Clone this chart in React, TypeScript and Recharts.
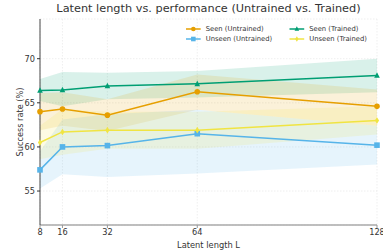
import React from 'react';
import { ComposedChart, Line, Area, XAxis, YAxis, CartesianGrid } from 'recharts';

const latentLengths = [8, 16, 32, 64, 128];

const seenUntrained = [64.0, 64.3, 63.6, 66.25, 64.6];
const seenUntrainedLo = [61.9, 62.4, 61.8, 64.2, 62.4];
const seenUntrainedHi = [66.1, 66.2, 65.4, 68.2, 66.5];

const unseenUntrained = [57.4, 60.0, 60.15, 61.5, 60.2];
const unseenUntrainedLo = [55.3, 56.9, 56.6, 57.0, 58.0];
const unseenUntrainedHi = [59.5, 63.1, 63.7, 64.2, 62.4];

const seenTrained = [66.4, 66.45, 66.9, 67.15, 68.1];
const seenTrainedLo = [65.2, 64.6, 65.4, 65.6, 66.2];
const seenTrainedHi = [67.7, 68.5, 68.4, 68.6, 70.0];

const unseenTrained = [60.5, 61.7, 61.9, 61.9, 63.0];
const unseenTrainedLo = [58.6, 59.1, 59.8, 59.8, 61.4];
const unseenTrainedHi = [62.4, 64.3, 64.0, 64.0, 64.6];

const xTicks = [8, 16, 32, 64, 128];
const yTicks = [55, 60, 65, 70];

const ORANGE = '#E69F00';
const BLUE = '#56B4E9';
const GREEN = '#009E73';
const YELLOW = '#F0E442';
const FONT = 'DejaVu Sans, sans-serif';

const data = latentLengths.map((l, i) => ({
  L: l,
  su: seenUntrained[i],
  suBand: [seenUntrainedLo[i], seenUntrainedHi[i]],
  uu: unseenUntrained[i],
  uuBand: [unseenUntrainedLo[i], unseenUntrainedHi[i]],
  st: seenTrained[i],
  stBand: [seenTrainedLo[i], seenTrainedHi[i]],
  ut: unseenTrained[i],
  utBand: [unseenTrainedLo[i], unseenTrainedHi[i]],
}));

const Marker = ({ cx, cy, shape, color, s = 2.8 }: any) => {
  if (cx == null || cy == null) return null;
  if (shape === 'circle') return <circle cx={cx} cy={cy} r={s} fill={color} />;
  if (shape === 'square') return <rect x={cx - s} y={cy - s} width={s * 2} height={s * 2} fill={color} />;
  if (shape === 'triangle')
    return <polygon points={`${cx},${cy - s - 0.5} ${cx - s},${cy + s - 0.5} ${cx + s},${cy + s - 0.5}`} fill={color} />;
  return <polygon points={`${cx},${cy - s - 0.5} ${cx + s * 0.75},${cy} ${cx},${cy + s + 0.5} ${cx - s * 0.75},${cy}`} fill={color} />;
};

const legendItems = [
  { name: 'Seen (Untrained)', color: ORANGE, shape: 'circle' },
  { name: 'Seen (Trained)', color: GREEN, shape: 'triangle' },
  { name: 'Unseen (Untrained)', color: BLUE, shape: 'square' },
  { name: 'Unseen (Trained)', color: YELLOW, shape: 'diamond' },
];

const ChartLegend = () => (
  <svg width={200} height={22} style={{ position: 'absolute', left: 186, top: 24, display: 'block' }}>
    {legendItems.map((item, i) => {
      const col = i % 2;
      const row = Math.floor(i / 2);
      const x0 = col * 103.5;
      const y = 5 + row * 10;
      return (
        <g key={item.name}>
          <line x1={x0} x2={x0 + 14.7} y1={y} y2={y} stroke={item.color} strokeWidth={1.5} />
          <Marker cx={x0 + 7.35} cy={y} shape={item.shape} color={item.color} s={2.3} />
          <text x={x0 + 19.7} y={y} dy="0.35em" fontSize={6.8} fill="#333" fontFamily={FONT}>
            {item.name}
          </text>
        </g>
      );
    })}
  </svg>
);

export default function App() {
  return (
    <div style={{ position: 'fixed', left: 0, top: 0, width: 383, height: 251, background: '#fff' }}>
      <ComposedChart width={383} height={251} data={data} margin={{ top: 19, right: 6, left: 0, bottom: 0 }}>
        <CartesianGrid stroke="#e4e4e4" strokeDasharray="1.5 1.5" strokeWidth={0.6} />
        <XAxis
          dataKey="L"
          type="number"
          domain={[8, 128]}
          ticks={xTicks}
          height={26}
          tickSize={3}
          tickMargin={1}
          interval={0}
          stroke="#999"
          axisLine={{ stroke: '#aaa', strokeWidth: 1.6 }}
          tick={{ fontSize: 8.2, fill: '#333', fontFamily: FONT }}
          label={{ value: 'Latent length L', position: 'insideBottom', offset: 3, fontSize: 8.3, fill: '#333', fontFamily: FONT }}
        />
        <YAxis
          type="number"
          domain={[51.15, 74.5]}
          ticks={yTicks}
          allowDataOverflow
          width={40}
          tickSize={3}
          tickMargin={2}
          stroke="#333"
          axisLine={{ stroke: '#333', strokeWidth: 0.9 }}
          tick={{ fontSize: 8.2, fill: '#333', fontFamily: FONT }}
          label={{ value: 'Success rate (%)', angle: -90, position: 'insideLeft', offset: 20, style: { textAnchor: 'middle' }, fontSize: 8.2, fill: '#333', fontFamily: FONT }}
        />
        <Area type="linear" dataKey="stBand" stroke="none" fill={GREEN} fillOpacity={0.15} isAnimationActive={false} />
        <Area type="linear" dataKey="suBand" stroke="none" fill={ORANGE} fillOpacity={0.15} isAnimationActive={false} />
        <Area type="linear" dataKey="uuBand" stroke="none" fill={BLUE} fillOpacity={0.15} isAnimationActive={false} />
        <Area type="linear" dataKey="utBand" stroke="none" fill={YELLOW} fillOpacity={0.15} isAnimationActive={false} />
        <Line type="linear" dataKey="uu" stroke={BLUE} strokeWidth={1.5} dot={(p: any) => <Marker key={p.index} {...p} shape="square" color={BLUE} />} isAnimationActive={false} />
        <Line type="linear" dataKey="ut" stroke={YELLOW} strokeWidth={1.5} dot={(p: any) => <Marker key={p.index} {...p} shape="diamond" color={YELLOW} />} isAnimationActive={false} />
        <Line type="linear" dataKey="su" stroke={ORANGE} strokeWidth={1.5} dot={(p: any) => <Marker key={p.index} {...p} shape="circle" color={ORANGE} />} isAnimationActive={false} />
        <Line type="linear" dataKey="st" stroke={GREEN} strokeWidth={1.5} dot={(p: any) => <Marker key={p.index} {...p} shape="triangle" color={GREEN} />} isAnimationActive={false} />
      </ComposedChart>
      <div
        style={{
          position: 'absolute',
          left: 40,
          width: 337,
          top: 2,
          textAlign: 'center',
          fontFamily: FONT,
          fontSize: 11.3,
          color: '#333',
          whiteSpace: 'nowrap',
        }}
      >
        Latent length vs. performance (Untrained vs. Trained)
      </div>
      <ChartLegend />
    </div>
  );
}
